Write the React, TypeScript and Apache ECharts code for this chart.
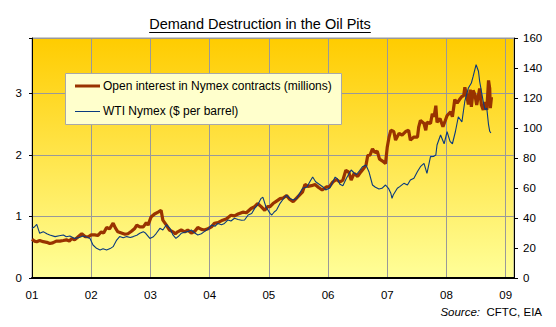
import React, { useEffect, useRef } from 'react';
import * as echarts from 'echarts';

const titleText = 'Demand Destruction in the Oil Pits';
const oiName = 'Open interest in Nymex contracts (millions)';
const wtiName = 'WTI Nymex ($ per barrel)';

const oiYears = [
  2001.00, 2001.04, 2001.08, 2001.13, 2001.19, 2001.25, 2001.30, 2001.35, 2001.41, 2001.47,
  2001.53, 2001.58, 2001.63, 2001.67, 2001.72, 2001.78, 2001.84, 2001.90, 2001.95, 2002.00,
  2002.06, 2002.11, 2002.17, 2002.21, 2002.26, 2002.31, 2002.37, 2002.41, 2002.45, 2002.51,
  2002.57, 2002.62, 2002.68, 2002.73, 2002.77, 2002.82, 2002.88, 2002.93, 2002.96, 2003.01,
  2003.07, 2003.13, 2003.18, 2003.21, 2003.27, 2003.32, 2003.38, 2003.42, 2003.46, 2003.52,
  2003.58, 2003.63, 2003.69, 2003.75, 2003.80, 2003.86, 2003.91, 2003.97, 2004.03, 2004.08,
  2004.14, 2004.22, 2004.28, 2004.36, 2004.42, 2004.48, 2004.56, 2004.62, 2004.70, 2004.76,
  2004.81, 2004.87, 2004.93, 2004.98, 2005.02, 2005.07, 2005.13, 2005.19, 2005.24, 2005.30,
  2005.35, 2005.41, 2005.46, 2005.52, 2005.57, 2005.61, 2005.66, 2005.72, 2005.78, 2005.84,
  2005.90, 2005.97, 2006.02, 2006.08, 2006.14, 2006.20, 2006.25, 2006.30, 2006.35, 2006.39,
  2006.44, 2006.50, 2006.55, 2006.60, 2006.64, 2006.67, 2006.71, 2006.75, 2006.79, 2006.83,
  2006.87, 2006.92, 2006.97, 2007.00, 2007.03, 2007.06, 2007.11, 2007.14, 2007.17, 2007.20,
  2007.25, 2007.31, 2007.36, 2007.39, 2007.45, 2007.51, 2007.53, 2007.56, 2007.62, 2007.65,
  2007.67, 2007.73, 2007.76, 2007.79, 2007.82, 2007.84, 2007.89, 2007.94, 2007.98, 2008.01,
  2008.07, 2008.10, 2008.14, 2008.18, 2008.22, 2008.26, 2008.29, 2008.31, 2008.34, 2008.37,
  2008.40, 2008.42, 2008.45, 2008.48, 2008.51, 2008.56, 2008.59, 2008.62, 2008.65, 2008.68,
  2008.71, 2008.73, 2008.74, 2008.76,
];
const oiValues = [
  0.63, 0.60, 0.59, 0.61, 0.59, 0.58, 0.56, 0.57, 0.60, 0.60,
  0.61, 0.62, 0.60, 0.64, 0.62, 0.67, 0.72, 0.67, 0.67, 0.70,
  0.70, 0.69, 0.75, 0.73, 0.82, 0.80, 0.89, 0.81, 0.75, 0.73,
  0.71, 0.72, 0.76, 0.80, 0.86, 0.83, 0.83, 0.90, 0.86, 0.99,
  1.04, 1.07, 1.10, 0.94, 0.86, 0.78, 0.75, 0.72, 0.75, 0.78,
  0.75, 0.78, 0.73, 0.76, 0.82, 0.79, 0.78, 0.80, 0.83, 0.89,
  0.90, 0.94, 0.96, 1.02, 1.01, 1.04, 1.07, 1.06, 1.13, 1.16,
  1.21, 1.16, 1.10, 1.16, 1.16, 1.21, 1.25, 1.29, 1.30, 1.34,
  1.28, 1.24, 1.29, 1.35, 1.40, 1.52, 1.49, 1.50, 1.52, 1.47,
  1.43, 1.48, 1.48, 1.56, 1.60, 1.56, 1.59, 1.75, 1.72, 1.59,
  1.70, 1.65, 1.72, 1.78, 1.83, 1.99, 2.00, 2.10, 2.04, 2.06,
  1.93, 1.90, 1.86, 2.13, 2.29, 2.40, 2.38, 2.24, 2.30, 2.35,
  2.32, 2.38, 2.40, 2.24, 2.29, 2.29, 2.45, 2.56, 2.51, 2.40,
  2.53, 2.51, 2.67, 2.62, 2.80, 2.53, 2.59, 2.46, 2.56, 2.64,
  2.70, 2.62, 2.90, 2.84, 2.90, 2.95, 2.96, 3.10, 2.97, 2.82,
  3.06, 2.78, 3.05, 2.98, 2.81, 3.08, 2.81, 2.73, 2.86, 2.73,
  3.21, 3.08, 2.76, 2.94,
];

const wtiYears = [
  2001.00, 2001.04, 2001.08, 2001.13, 2001.19, 2001.25, 2001.30, 2001.39, 2001.46, 2001.53,
  2001.58, 2001.64, 2001.72, 2001.80, 2001.86, 2001.93, 2001.98, 2002.03, 2002.09, 2002.15,
  2002.20, 2002.26, 2002.32, 2002.37, 2002.43, 2002.48, 2002.54, 2002.60, 2002.66, 2002.71,
  2002.77, 2002.82, 2002.88, 2002.92, 2002.99, 2003.05, 2003.10, 2003.16, 2003.21, 2003.27,
  2003.33, 2003.38, 2003.43, 2003.48, 2003.52, 2003.58, 2003.63, 2003.69, 2003.75, 2003.80,
  2003.86, 2003.91, 2003.97, 2004.03, 2004.09, 2004.14, 2004.20, 2004.25, 2004.31, 2004.36,
  2004.42, 2004.48, 2004.54, 2004.59, 2004.65, 2004.71, 2004.76, 2004.81, 2004.87, 2004.90,
  2004.95, 2005.02, 2005.05, 2005.09, 2005.13, 2005.19, 2005.25, 2005.30, 2005.35, 2005.41,
  2005.47, 2005.52, 2005.57, 2005.64, 2005.69, 2005.74, 2005.79, 2005.85, 2005.92, 2005.96,
  2006.03, 2006.08, 2006.12, 2006.16, 2006.20, 2006.25, 2006.31, 2006.36, 2006.39, 2006.44,
  2006.48, 2006.53, 2006.58, 2006.64, 2006.69, 2006.75, 2006.80, 2006.86, 2006.91, 2006.97,
  2007.02, 2007.06, 2007.08, 2007.10, 2007.17, 2007.21, 2007.28, 2007.34, 2007.39, 2007.45,
  2007.51, 2007.56, 2007.62, 2007.67, 2007.73, 2007.78, 2007.82, 2007.84, 2007.90, 2007.96,
  2008.01, 2008.06, 2008.10, 2008.15, 2008.20, 2008.26, 2008.31, 2008.37, 2008.42, 2008.45,
  2008.50, 2008.54, 2008.56, 2008.62, 2008.65, 2008.68, 2008.71, 2008.73, 2008.75,
];
const wtiValues = [
  33.1, 34.0, 35.8, 29.8, 30.9, 29.5, 28.7, 27.6, 28.2, 28.7,
  27.5, 28.0, 26.4, 27.0, 28.0, 27.2, 26.4, 22.0, 19.8, 18.7,
  19.5, 18.7, 19.6, 20.9, 25.3, 27.6, 26.8, 27.6, 27.0, 27.6,
  28.5, 29.8, 30.9, 29.8, 26.4, 27.5, 29.8, 33.1, 32.0, 35.5,
  33.1, 28.7, 26.4, 28.0, 29.8, 30.5, 30.9, 32.0, 30.0, 28.7,
  29.5, 30.9, 32.5, 35.3, 34.5, 36.4, 35.5, 36.4, 38.7, 38.0,
  39.8, 39.0, 38.5, 38.7, 42.0, 43.0, 46.4, 48.7, 53.1, 53.8,
  47.5, 43.1, 42.0, 44.0, 45.3, 49.8, 53.0, 55.3, 53.1, 52.0,
  53.0, 56.4, 59.8, 60.5, 64.0, 67.3, 64.2, 62.5, 60.5, 58.7,
  60.0, 64.2, 67.3, 66.0, 62.5, 61.5, 66.5, 70.0, 72.0, 70.0,
  69.0, 71.5, 74.2, 75.3, 70.9, 62.0, 60.5, 59.3, 59.8, 62.0,
  59.8, 56.5, 53.1, 55.3, 59.8, 60.9, 63.1, 62.0, 65.3, 66.5,
  71.0, 74.2, 76.4, 69.8, 80.9, 81.0, 82.0, 88.7, 95.3, 89.5,
  97.5, 91.1, 89.5, 97.5, 107.5, 104.0, 118.0, 126.7, 130.0, 134.4,
  142.2, 137.8, 131.1, 117.8, 112.2, 113.3, 102.2, 97.8, 96.7,
];

const FONT = "'Liberation Sans', Arial, Helvetica, sans-serif";
const OI_COLOR = '#993300';
const WTI_COLOR = '#0A3A7E';

export default function App() {
  const ref = useRef<HTMLDivElement>(null);

  useEffect(() => {
    const chart = echarts.init(ref.current as HTMLDivElement, null, { renderer: 'svg' });

    const titleSize = 14.5;
    let titleWidth = 218;
    try {
      const ctx = document.createElement('canvas').getContext('2d');
      if (ctx) {
        ctx.font = `${titleSize}px ${FONT}`;
        titleWidth = ctx.measureText(titleText).width;
      }
    } catch (e) {}
    const titleX = 260;

    const oiData = oiYears.map((x, i) => [x, oiValues[i]]);
    const wtiData = wtiYears.map((x, i) => [x, wtiValues[i]]);

    chart.setOption({
      animation: false,
      backgroundColor: '#ffffff',
      textStyle: { fontFamily: FONT, color: '#000' },
      grid: {
        left: 32,
        right: 42,
        top: 38,
        bottom: 49,
        show: true,
        backgroundColor: new echarts.graphic.LinearGradient(0, 0, 0, 1, [
          { offset: 0, color: '#FFCC00' },
          { offset: 1, color: '#FFFF99' },
        ]),
        borderColor: '#9a9a9a',
        borderWidth: 1,
      },
      xAxis: {
        type: 'value',
        min: 2001,
        max: 2009.14,
        interval: 1,
        axisLine: { show: true, onZero: false, lineStyle: { color: '#000', width: 2 } },
        axisTick: { show: false },
        axisLabel: {
          margin: 11,
          fontSize: 11.5,
          color: '#000',
          formatter: (v: number) =>
            Number.isInteger(v) ? String(v % 100).padStart(2, '0') : '',
        },
        splitLine: { show: true, lineStyle: { color: '#999', width: 1 } },
      },
      yAxis: [
        {
          type: 'value',
          min: 0,
          max: 3.9,
          interval: 1,
          position: 'left',
          axisLine: { show: true, lineStyle: { color: '#000', width: 1 } },
          axisTick: { show: true, length: 3, lineStyle: { color: '#000' } },
          axisLabel: {
            margin: 10,
            fontSize: 11.5,
            color: '#000',
            formatter: (v: number) => (Number.isInteger(v) ? String(v) : ''),
          },
          splitLine: { show: true, lineStyle: { color: '#999', width: 1 } },
        },
        {
          type: 'value',
          min: 0,
          max: 160,
          interval: 20,
          position: 'right',
          axisLine: { show: true, lineStyle: { color: '#000', width: 1 } },
          axisTick: { show: true, length: 4, lineStyle: { color: '#000' } },
          axisLabel: { margin: 9, fontSize: 11.5, color: '#000' },
          splitLine: { show: false },
        },
      ],
      series: [
        {
          name: oiName,
          type: 'line',
          yAxisIndex: 0,
          data: oiData,
          symbol: 'none',
          z: 3,
          lineStyle: { color: OI_COLOR, width: 3.2 },
          itemStyle: { color: OI_COLOR },
        },
        {
          name: wtiName,
          type: 'line',
          yAxisIndex: 1,
          data: wtiData,
          symbol: 'none',
          z: 4,
          lineStyle: { color: WTI_COLOR, width: 1.1 },
          itemStyle: { color: WTI_COLOR },
        },
      ],
      graphic: [
        {
          type: 'group',
          z: 10,
          children: [
            {
              type: 'rect',
              z: 10,
              shape: { x: 65.5, y: 73.5, width: 276, height: 51 },
              style: { fill: '#FFFFCC', stroke: '#A8A8A8', lineWidth: 1 },
            },
            {
              type: 'line',
              z: 11,
              shape: { x1: 75, y1: 86, x2: 100, y2: 86 },
              style: { stroke: OI_COLOR, lineWidth: 3 },
            },
            {
              type: 'text',
              z: 11,
              x: 103,
              y: 86,
              style: {
                text: oiName,
                fontSize: 12,
                fontFamily: FONT,
                fill: '#000',
                align: 'left',
                verticalAlign: 'middle',
              },
            },
            {
              type: 'line',
              z: 11,
              shape: { x1: 75, y1: 111.5, x2: 100, y2: 111.5 },
              style: { stroke: WTI_COLOR, lineWidth: 1 },
            },
            {
              type: 'text',
              z: 11,
              x: 103,
              y: 111,
              style: {
                text: wtiName,
                fontSize: 12,
                fontFamily: FONT,
                fill: '#000',
                align: 'left',
                verticalAlign: 'middle',
              },
            },
          ],
        },
        {
          type: 'text',
          x: titleX,
          y: 24,
          style: {
            text: titleText,
            fontSize: titleSize,
            fontFamily: FONT,
            fill: '#000',
            align: 'center',
            verticalAlign: 'middle',
          },
        },
        {
          type: 'line',
          shape: {
            x1: titleX - titleWidth / 2,
            y1: 32.5,
            x2: titleX + titleWidth / 2,
            y2: 32.5,
          },
          style: { stroke: '#000', lineWidth: 1 },
        },
        {
          type: 'text',
          x: 542,
          y: 312,
          style: {
            text: '{i|Source:}  CFTC, EIA',
            fontSize: 11.5,
            fontFamily: FONT,
            fill: '#000',
            align: 'right',
            verticalAlign: 'middle',
            rich: { i: { fontStyle: 'italic', fontSize: 11.5, fontFamily: FONT, fill: '#000' } },
          },
        },
      ],
    });

    return () => chart.dispose();
  }, []);

  return (
    <div
      ref={ref}
      style={{ position: 'fixed', left: 0, top: 0, width: 556, height: 327 }}
    />
  );
}
